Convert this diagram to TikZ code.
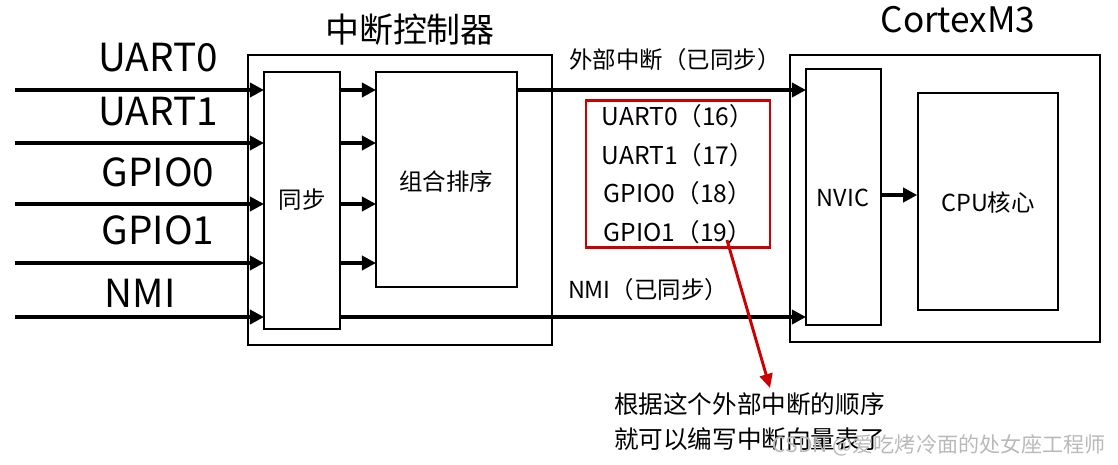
\documentclass[tikz,border=0pt]{standalone}
\usepackage{fontspec}
\setmainfont{Noto Sans CJK SC}
\usetikzlibrary{arrows.meta}
\begin{document}
\begin{tikzpicture}[x=0.03cm,y=-0.03cm,
  box/.style={draw,line width=1.3pt,inner sep=0},
  arr/.style={line width=3.8pt,-{Triangle[length=12pt,width=12pt]}},
  big/.style={font=\fontsize{33}{36}\selectfont},
  mid/.style={font=\fontsize{20}{22}\selectfont}]
\useasboundingbox (0,0) rectangle (1118,464);
\draw[box] (248,55) rectangle (552,345);
\node[box,minimum width=76*0.03cm,minimum height=257*0.03cm] (sync) at (302,200.5) {};
\node[mid] at (302,200) {同步};
\node[box,minimum width=141*0.03cm,minimum height=215*0.03cm] (comb) at (446.5,179.5) {};
\node[mid] at (446,182) {组合排序};
\draw[box] (790,55) rectangle (1100,342);
\node[box,minimum width=75*0.03cm,minimum height=256*0.03cm] (nvic) at (843.5,197) {};
\node[mid] at (843,198) {NVIC};
\node[box,minimum width=140*0.03cm,minimum height=217*0.03cm] (cpu) at (988,201.5) {};
\node[mid] at (988,203) {CPU核心};
\node[font=\fontsize{29}{30}\selectfont] (t1) at (410,30) {中断控制器};
\node[font=\fontsize{30}{30}\selectfont] (t2) at (958,20) {CortexM3};
\foreach \y/\t/\ty in {90/UART0/58,143/UART1/112,204/GPIO0/172,263/GPIO1/230}{
  \coordinate (s\y) at (15,\y);
  \coordinate (e\y) at (264,\y);
  \draw[arr] (s\y) -- (e\y);
  \coordinate (a\y) at (340,\y);
  \coordinate (b\y) at (376,\y);
  \draw[arr] (a\y) -- (b\y);
  \node[big] at (158,\ty) {\t};
}
\coordinate (s317) at (15,317); \coordinate (e317) at (264,317);
\draw[arr] (s317) -- (e317);
\node[big] at (140,293) {NMI};
\coordinate (n1) at (340,317); \coordinate (n2) at (806,317);
\draw[arr] (n1) -- (n2);
\coordinate (c1) at (517,90); \coordinate (c2) at (806,90);
\draw[arr] (c1) -- (c2);
\draw[arr] (nvic.east |- 0,195) -- (cpu.west |- 0,195);
\node[mid] at (675,60) {外部中断（已同步）};
\node[mid] at (648,290) {NMI（已同步）};
\node[draw=red!80!black,line width=2.5pt,minimum width=184*0.03cm,minimum height=132*0.03cm,align=center,font=\fontsize{21}{33}\selectfont] (red) at (678,174) {UART0（16）\\UART1（17）\\GPIO0（18）\\GPIO1（19）};
\coordinate (rt) at (770,388);
\draw[red!80!black,line width=2.5pt,-{Triangle[length=12pt,width=11pt]}] (727,240) -- (rt);
\node[anchor=west,align=left,font=\fontsize{21}{30}\selectfont] (note) at (610,422) {根据这个外部中断的顺序\\就可以编写中断向量表了};
\node[anchor=east,text=gray!55,font=\fontsize{18}{20}\selectfont] (wm) at (1110,445) {CSDN @爱吃烤冷面的处女座工程师};
\end{tikzpicture}
\end{document}
